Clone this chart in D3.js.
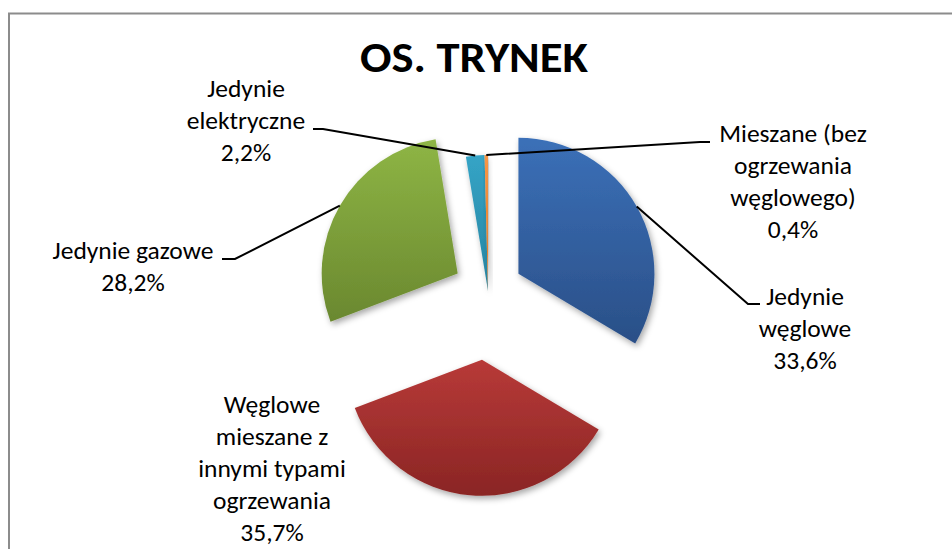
<!DOCTYPE html>
<html>
<head>
<meta charset="utf-8">
<script src="https://cdn.jsdelivr.net/npm/d3@7/dist/d3.min.js"></script>
<style>
  html, body { margin: 0; padding: 0; background: #ffffff; }
  svg { display: block; }
  text { font-family: Carlito, Calibri, Lato, "Noto Sans", sans-serif; fill: #000; }
</style>
</head>
<body>
<svg id="chart" width="952" height="549"></svg>
<script>
// ---- data ----
const title = "OS. TRYNEK";
const categories = [
  "Jedynie węglowe",
  "Węglowe mieszane z innymi typami ogrzewania",
  "Jedynie gazowe",
  "Jedynie elektryczne",
  "Mieszane (bez ogrzewania węglowego)"
];
const values = [33.6, 35.7, 28.2, 2.2, 0.4];
const valueLabels = ["33,6%", "35,7%", "28,2%", "2,2%", "0,4%"];
const labelLines = [
  ["Jedynie", "węglowe"],
  ["Węglowe", "mieszane z", "innymi typami", "ogrzewania"],
  ["Jedynie gazowe"],
  ["Jedynie", "elektryczne"],
  ["Mieszane (bez", "ogrzewania", "węglowego)"]
];

// ---- layout / style ----
const W = 952, H = 549;
const cx = 488, cy = 291, R = 136;
const explode = [35, 69, 35, 0, 0];
const colorsTop = ["#3b70b8", "#b83a38", "#8eb545", "#35a4c6", "#f79646"];
const colorsBot = ["#2a4f87", "#8a2524", "#6a882f", "#2784a1", "#e3781f"];
// label positions: x center, first baseline; leader path end points
const labelPos = [
  {x: 805, y: 305, leader: [[748, 304], [760, 304]]},
  {x: 272, y: 413, leader: null},
  {x: 133, y: 259, leader: [[235, 259], [222, 259]]},
  {x: 246, y: 97,  leader: [[323, 129], [313, 129]]},
  {x: 793, y: 142, leader: [[700, 142], [710, 142]]}
];
const lineH = 32;
const fontSize = 25.5;

const svg = d3.select("#chart");
const defs = svg.append("defs");

const filt = defs.append("filter").attr("id", "shadow")
  .attr("x", "-20%").attr("y", "-20%").attr("width", "140%").attr("height", "140%");
filt.append("feDropShadow").attr("dx", 2).attr("dy", 3).attr("stdDeviation", 3)
  .attr("flood-color", "#000").attr("flood-opacity", 0.35);

values.forEach((v, i) => {
  const g = defs.append("linearGradient").attr("id", "grad" + i)
    .attr("x1", 0).attr("y1", 0).attr("x2", 0).attr("y2", 1);
  g.append("stop").attr("offset", "0%").attr("stop-color", colorsTop[i]);
  g.append("stop").attr("offset", "100%").attr("stop-color", colorsBot[i]);
});

// frame
svg.append("rect").attr("x", 9).attr("y", 13.5).attr("width", W + 20).attr("height", H + 20)
  .attr("fill", "#fff").attr("stroke", "#8c8c8c").attr("stroke-width", 2);

// title
svg.append("text").attr("x", 474).attr("y", 72).attr("text-anchor", "middle")
  .attr("font-size", 42).attr("font-weight", "bold")
  .attr("textLength", 228).attr("lengthAdjust", "spacingAndGlyphs")
  .text(title);

const pie = d3.pie().sort(null).startAngle(0).endAngle(2 * Math.PI);
const arcs = pie(values);
const arcGen = d3.arc().innerRadius(0).outerRadius(R);

const gPie = svg.append("g").attr("transform", `translate(${cx},${cy})`);
arcs.forEach((a, i) => {
  const mid = (a.startAngle + a.endAngle) / 2;
  const dx = explode[i] * Math.sin(mid), dy = -explode[i] * Math.cos(mid);
  gPie.append("path")
    .attr("d", arcGen(a))
    .attr("transform", `translate(${dx},${dy})`)
    .attr("fill", `url(#grad${i})`)
    .attr("filter", "url(#shadow)");
});

// leaders
arcs.forEach((a, i) => {
  const lp = labelPos[i];
  if (!lp.leader) return;
  const mid = (a.startAngle + a.endAngle) / 2;
  const r = R + explode[i];
  const start = [cx + r * Math.sin(mid), cy - r * Math.cos(mid)];
  svg.append("path")
    .attr("d", d3.line()([start, ...lp.leader]))
    .attr("fill", "none").attr("stroke", "#000").attr("stroke-width", 2);
});

// labels
arcs.forEach((a, i) => {
  const lp = labelPos[i];
  const lines = labelLines[i].concat([valueLabels[i]]);
  const t = svg.append("text").attr("text-anchor", "middle").attr("font-size", fontSize);
  lines.forEach((ln, j) => {
    t.append("tspan").attr("x", lp.x).attr("y", lp.y + j * lineH).text(ln);
  });
});
</script>
</body>
</html>
